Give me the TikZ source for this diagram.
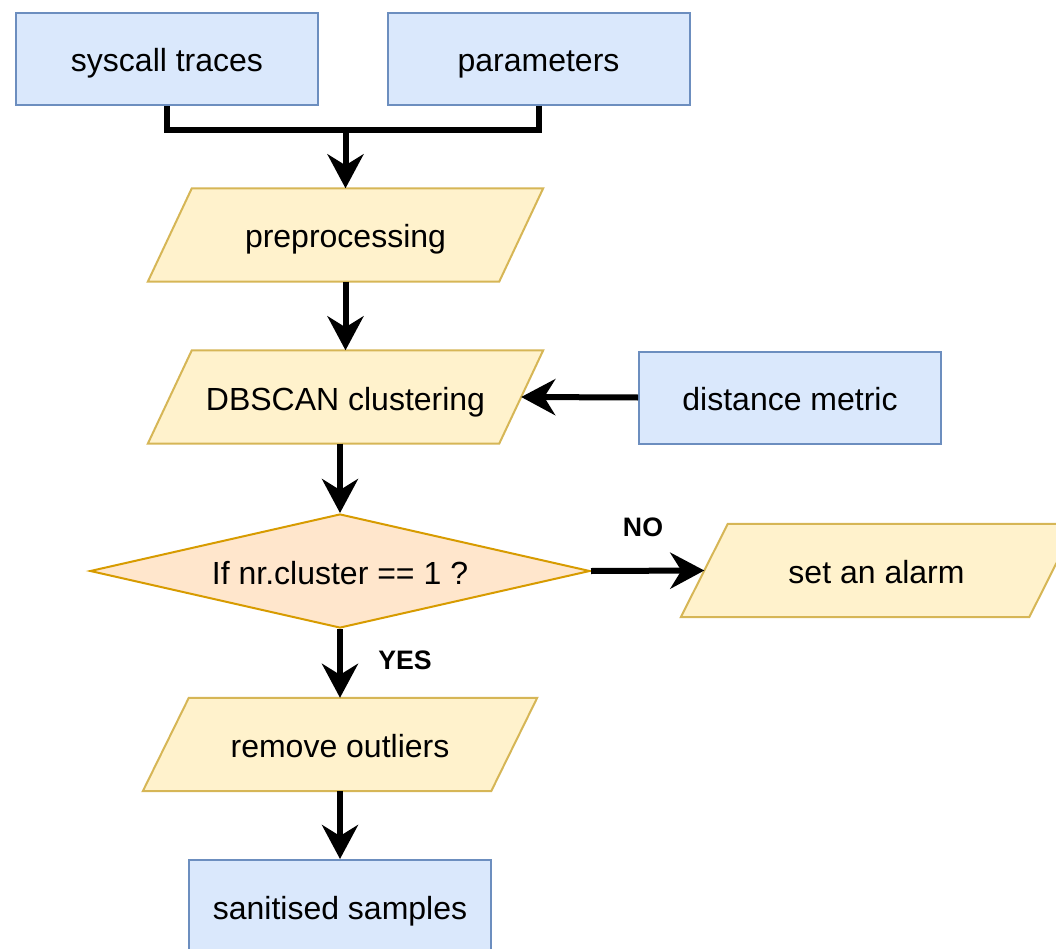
\documentclass[tikz,border=0pt]{standalone}
\usepackage{fontspec}
\setmainfont{Liberation Sans}
\usetikzlibrary{arrows.meta,shapes.geometric}
\definecolor{blueFill}{HTML}{DAE8FC}
\definecolor{blueLine}{HTML}{6C8EBF}
\definecolor{yelFill}{HTML}{FFF2CC}
\definecolor{yelLine}{HTML}{D6B656}
\definecolor{orFill}{HTML}{FFE6CC}
\definecolor{orLine}{HTML}{D79B00}
\tikzset{
  txt/.style={font=\fontsize{32}{38}\selectfont, text=black,
    text height=26pt, text depth=0pt},
  bluebox/.style={txt, draw=blueLine, fill=blueFill, line width=2pt,
    minimum width=302pt, minimum height=92pt, inner sep=0pt},
  parabox/.style={txt, inner sep=0pt, minimum height=93pt},
  paraline/.style={draw=yelLine, fill=yelFill, line width=2pt, line join=miter},
  decision/.style={txt, diamond, draw=orLine, fill=orFill, line width=2pt,
    shape aspect=4.39, minimum width=500pt, minimum height=114pt, inner sep=0pt},
  link/.style={line width=6pt, line join=miter, draw=black},
  flow/.style={link, -{Stealth[length=34pt, width=36pt, inset=11pt]}},
  tag/.style={font=\fontsize{26.7}{32}\selectfont\bfseries, text=black},
}
\begin{document}
\begin{tikzpicture}[x=1pt, y=-1pt]
\useasboundingbox (0,0) rectangle (1056,949);

% input boxes
\node[bluebox] (sys) at (167,59) {syscall traces};
\node[bluebox] (par) at (538.5,59) {parameters};
\node[bluebox] (dist) at (790,397.5) {distance metric};
\node[bluebox] (san) at (340,906) {sanitised samples};

% parallelogram steps: an invisible node carries the text, the outline is drawn around it
\node[parabox, minimum width=351pt] (pre) at (345.5,235) {};
\path[paraline] ([xshift=22pt]pre.north west) -- ([xshift=22pt]pre.north east)
  -- ([xshift=-22pt]pre.south east) -- ([xshift=-22pt]pre.south west) -- cycle;
\node[txt] at (pre.center) {preprocessing};

\node[parabox, minimum width=351pt] (db) at (345.5,397) {};
\path[paraline] ([xshift=22pt]db.north west) -- ([xshift=22pt]db.north east)
  -- ([xshift=-22pt]db.south east) -- ([xshift=-22pt]db.south west) -- cycle;
\node[txt] at (db.center) {DBSCAN clustering};

\node[parabox, minimum width=348pt] (alarm) at (878.5,570.5) {};
\path[paraline] ([xshift=23.5pt]alarm.north west) -- ([xshift=23.5pt]alarm.north east)
  -- ([xshift=-23.5pt]alarm.south east) -- ([xshift=-23.5pt]alarm.south west) -- cycle;
\node[txt] at ([xshift=-2pt]alarm.center) {set an alarm};

\node[parabox, minimum width=348pt] (rem) at (340,744.5) {};
\path[paraline] ([xshift=23pt]rem.north west) -- ([xshift=23pt]rem.north east)
  -- ([xshift=-23pt]rem.south east) -- ([xshift=-23pt]rem.south west) -- cycle;
\node[txt] at (rem.center) {remove outliers};

% decision
\node[decision] (dec) at (340,571) {If nr.cluster == 1 ?};

% connectors
\coordinate (join) at (pre.north |- 0,130);
\draw[link] (sys.south) |- (join);
\draw[link] (par.south) |- (join);
\draw[flow] (join) -- (pre.north);
\draw[flow] (pre.south) -- (db.north);
\draw[flow] (dist.west) -- (db.east);
\draw[flow] (dec.north |- db.south) -- (dec.north);
\draw[flow] (dec.east) -- (alarm.west);
\draw[flow] (dec.south) -- (rem.north);
\draw[flow] (rem.south) -- (san.north);

% branch labels
\node[tag] (no) at (643,527) {NO};
\node[tag] (yes) at (405,660) {YES};
\end{tikzpicture}
\end{document}
